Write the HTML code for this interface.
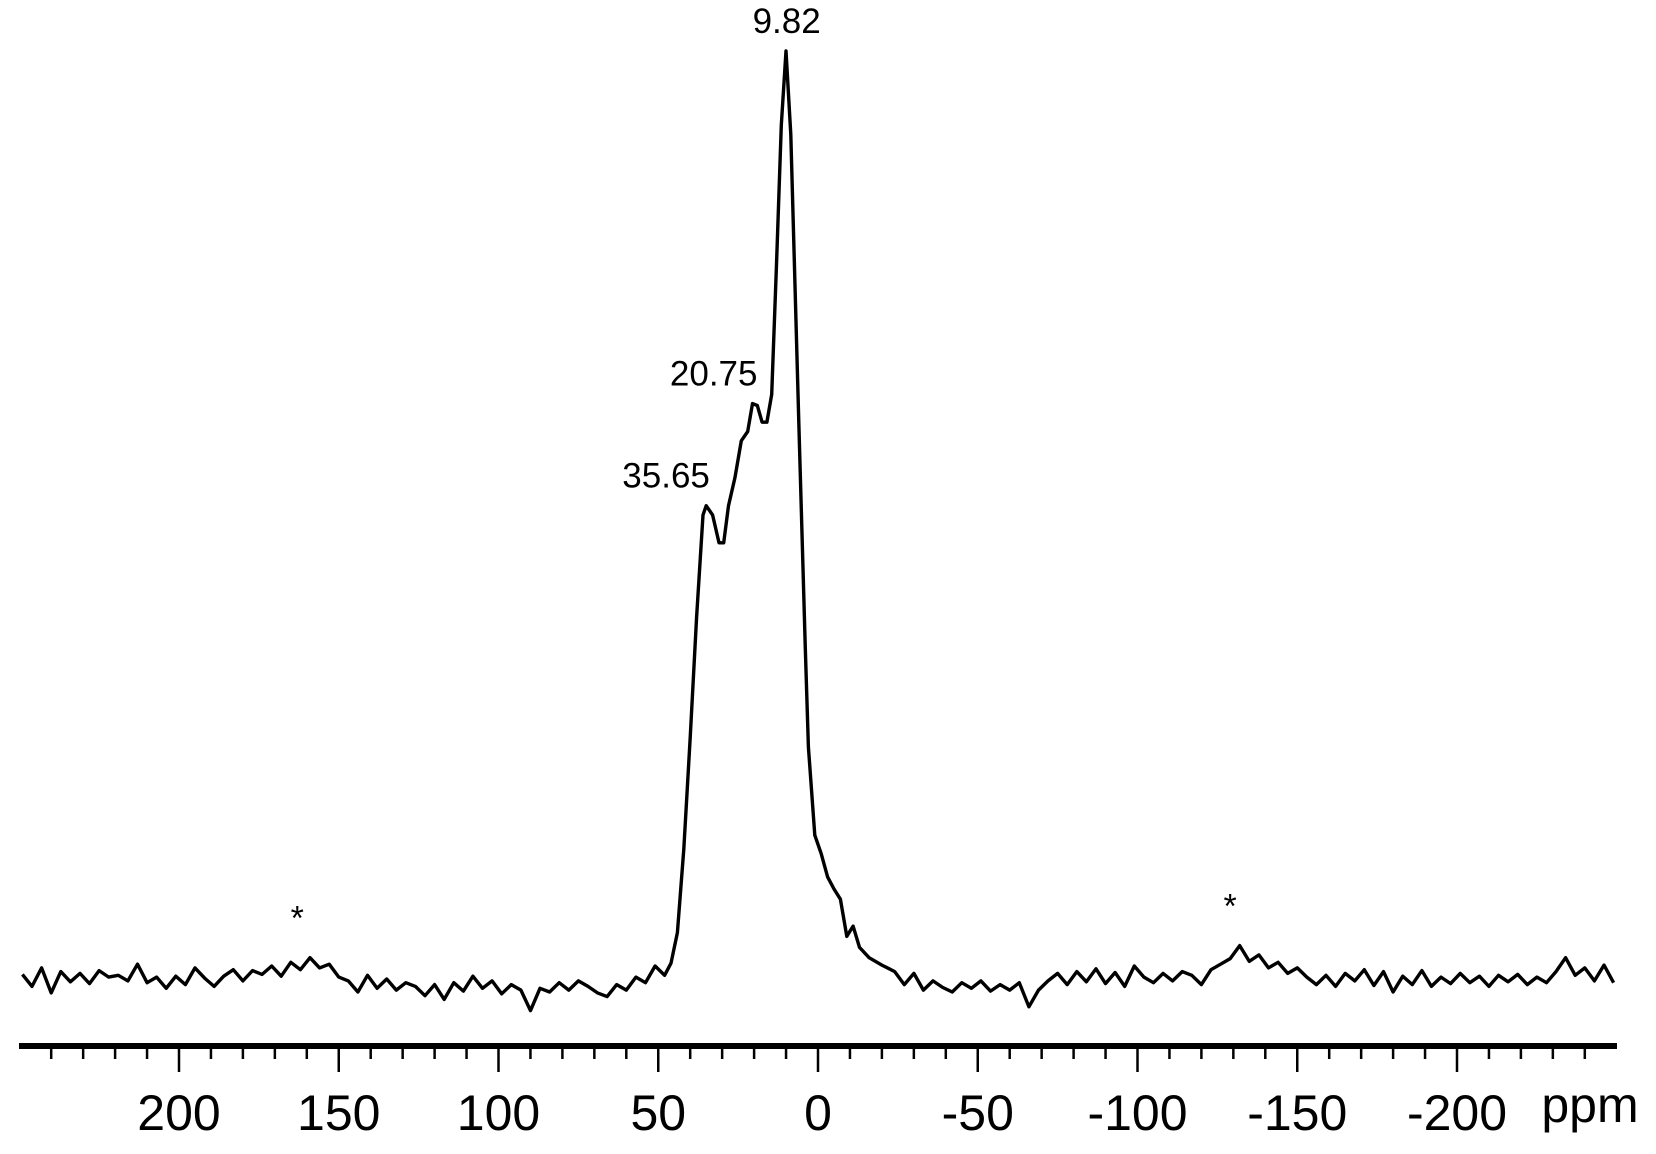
<!DOCTYPE html>
<html><head><meta charset="utf-8"><style>
html,body{margin:0;padding:0;background:#fff}
svg{display:block}
text{font-family:"Liberation Sans",Arial,sans-serif;fill:#000}
</style></head><body>
<svg id="chart" width="1656" height="1154" viewBox="0 0 1656 1154" xmlns="http://www.w3.org/2000/svg">
<g id="plot"></g>
<g id="axis"></g>
</svg>
<script>
// ---- data ----
const leftPpm = [249,246,243,240,237,234,231,228,225,222,219,216,213,210,207,204,201,198,195,192,189,186,183,180,177,174,171,168,165,162,159,156,153,150,147,144,141,138,135,132,129,126,123,120,117,114,111,108,105,102,99,96,93,90,87,84,81,78,75,72,69,66,63,60,57,54,51,48];
const leftInt = [0.5,-0.8,1.2,-1.5,0.8,-0.3,0.6,-0.5,0.9,0.2,0.4,-0.2,1.6,-0.4,0.2,-1.0,0.3,-0.6,1.2,0.1,-0.8,0.3,1.0,-0.2,0.9,0.5,1.4,0.3,1.8,1.0,2.3,1.2,1.6,0.2,-0.2,-1.4,0.4,-1.0,0.0,-1.2,-0.4,-0.8,-1.8,-0.6,-2.2,-0.4,-1.3,0.3,-1.0,-0.2,-1.6,-0.6,-1.2,-3.4,-1.0,-1.4,-0.4,-1.2,-0.2,-0.8,-1.5,-1.9,-0.6,-1.2,0.2,-0.4,1.4,0.4];
const peakPpm = [46,44,42,40,38,36,35,33,31,29.5,28,26,24,22,20.5,19,17.5,16,14.5,13,11.5,10,8.5,6,4,3,1,-1,-3,-5,-7,-9,-11,-13,-16,-20,-24];
const peakInt = [1.7,5,14,26,39,50,51,50,47,47,51,54,58,59,62,61.8,60,60,63,77,92,100,91,60,36,25,15.5,13.5,11,9.7,8.6,4.6,5.7,3.4,2.3,1.5,0.8];
const rightPpm = [-27,-30,-33,-36,-39,-42,-45,-48,-51,-54,-57,-60,-63,-66,-69,-72,-75,-78,-81,-84,-87,-90,-93,-96,-99,-102,-105,-108,-111,-114,-117,-120,-123,-126,-129,-132,-135,-138,-141,-144,-147,-150,-153,-156,-159,-162,-165,-168,-171,-174,-177,-180,-183,-186,-189,-192,-195,-198,-201,-204,-207,-210,-213,-216,-219,-222,-225,-228,-231,-234,-237,-240,-243,-246,-249];
const rightInt = [-0.6,0.6,-1.2,-0.2,-0.9,-1.4,-0.4,-1.0,-0.2,-1.3,-0.6,-1.2,-0.4,-3.0,-1.2,-0.2,0.6,-0.6,0.8,-0.3,1.1,-0.5,0.7,-0.8,1.4,0.2,-0.4,0.6,-0.2,0.8,0.4,-0.6,1.0,1.6,2.2,3.6,1.9,2.6,1.2,1.8,0.6,1.2,0.2,-0.6,0.4,-0.8,0.6,-0.2,1.0,-0.7,0.8,-1.4,0.3,-0.6,0.9,-0.8,0.2,-0.5,0.6,-0.4,0.3,-0.8,0.4,-0.3,0.5,-0.6,0.2,-0.4,0.8,2.3,0.4,1.2,-0.2,1.5,-0.4];
const majorTicks = [200,150,100,50,0,-50,-100,-150,-200];
const tickLabels = ["200","150","100","50","0","-50","-100","-150","-200"];
const annPpm = [9.82,20.75,35.65];
const annLabel = ["9.82","20.75","35.65"];
const annInt = [100,62,51];
const starPpm = [163,-129];
const starInt = [2.3,3.6];

// ---- scales ----
const X0 = 818, PXPPM = 3.195;
const x = p => X0 - p*PXPPM;
const Y0 = 979, PXINT = 9.28;
const y = v => Y0 - v*PXINT;
const NS = "http://www.w3.org/2000/svg";
function mk(tag, attrs, parent){const e=document.createElementNS(NS,tag);for(const k in attrs)e.setAttribute(k,attrs[k]);parent.appendChild(e);return e;}

const plot = document.getElementById('plot');
const axis = document.getElementById('axis');
const allP = leftPpm.concat(peakPpm, rightPpm);
const allI = leftInt.concat(peakInt, rightInt);
let d = '';
allP.forEach((p,i)=>{d += (i?'L':'M') + x(p).toFixed(1) + ' ' + y(allI[i]).toFixed(1);});
const line = mk('path',{d:d,fill:'none',stroke:'#000','stroke-width':3.4,'stroke-linejoin':'round'},plot);



annPpm.forEach((p,i)=>{
  const off = i===0 ? 0 : -38;
  const t = mk('text',{x:x(p)+off,y:y(annInt[i])-18,'font-size':35,'text-anchor':'middle'},plot);
  t.textContent = annLabel[i];
  
  
});
starPpm.forEach((p,i)=>{
  const t = mk('text',{x:x(p),y:y(starInt[i])-28,'font-size':34,'text-anchor':'middle'},plot);
  t.textContent = '*';
  
  
});

// axis
const ax = mk('line',{x1:19,x2:1617,y1:1046,y2:1046,stroke:'#000','stroke-width':6},axis);


for(let p=240;p>=-240;p-=10){
  const major = p%50===0;
  const t = mk('line',{x1:x(p),x2:x(p),y1:1046,y2:major?1072:1059,stroke:'#000','stroke-width':2.5},axis);
  
  
}
majorTicks.forEach((p,i)=>{
  const t = mk('text',{x:x(p),y:1130,'font-size':50,'text-anchor':'middle'},axis);
  t.textContent = tickLabels[i];
  
  
});
const u = mk('text',{x:1590,y:1122,'font-size':50,'text-anchor':'middle'},axis);
u.textContent = 'ppm';


</script>
</body></html>
